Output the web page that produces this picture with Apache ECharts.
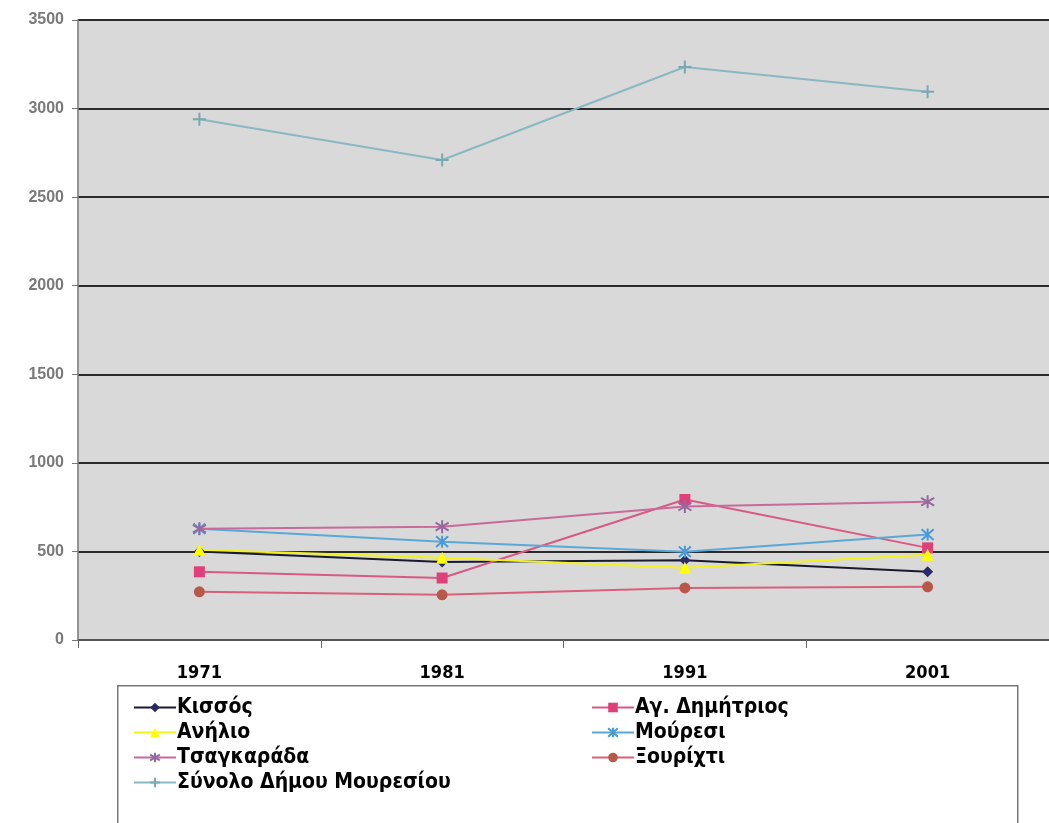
<!DOCTYPE html>
<html>
<head>
<meta charset="utf-8">
<script src="https://cdn.jsdelivr.net/npm/echarts@6/dist/echarts.min.js"></script>
<style>
html,body{margin:0;padding:0;background:#fff;}
#c{width:1049px;height:823px;}
</style>
</head>
<body>
<div id="c"></div>
<script>
var years = ['1971', '1981', '1991', '2001'];
var yTicks = [0, 500, 1000, 1500, 2000, 2500, 3000, 3500];
var kissos = [500, 440, 450, 385];
var agDimitrios = [385, 350, 793, 520];
var anilio = [510, 464, 408, 481];
var mouresi = [628, 555, 498, 595];
var tsagkarada = [628, 640, 753, 780];
var xourichti = [272, 255, 294, 300];
var synolo = [2940, 2710, 3235, 3095];

var names = ['Κισσός', 'Αγ. Δημήτριος', 'Ανήλιο', 'Μούρεσι', 'Τσαγκαράδα', 'Ξουρίχτι', 'Σύνολο Δήμου Μουρεσίου'];

var starPath = 'path://M0,-10 L0,10 M-9,-6 L9,6 M-9,6 L9,-6';
var xPath = 'path://M-8,-8 L8,8 M-8,8 L8,-8 M0,-9 L0,9';
var plusPath = 'path://M0,-8 L0,8 M-6,0 L6,0';

function mk(name, data, lineColor, markColor, symbol, size, strokeMarker) {
  return {
    name: name, type: 'line', data: data,
    symbol: symbol, symbolSize: size,
    lineStyle: {color: lineColor, width: 2},
    itemStyle: strokeMarker ? {color: 'none', borderColor: markColor, borderWidth: 2} : {color: markColor, borderWidth: 0},
    color: lineColor,
    z: 3
  };
}

var chart = echarts.init(document.getElementById('c'));
var fontNarrow = '"Liberation Sans Narrow", "DejaVu Sans Condensed", Arial, sans-serif';
chart.setOption({
  backgroundColor: '#ffffff',
  animation: false,
  grid: {left: 78, top: 20, width: 988, height: 620, show: true, backgroundColor: '#d9d9d9', borderWidth: 0},
  xAxis: {
    type: 'category', data: years, boundaryGap: true,
    axisLine: {lineStyle: {color: '#666', width: 1.5}},
    axisTick: {show: true, length: 8, lineStyle: {color: '#666'}},
    axisLabel: {color: '#000', fontSize: 18, fontWeight: 'bold', fontFamily: fontNarrow, margin: 24}
  },
  yAxis: {
    type: 'value', min: yTicks[0], max: yTicks[yTicks.length - 1], interval: 500,
    axisLine: {show: true, lineStyle: {color: '#777', width: 1.5}},
    axisTick: {show: true, length: 6, lineStyle: {color: '#777'}},
    axisLabel: {color: '#7a7a7a', fontSize: 16, fontWeight: 'bold', fontFamily: 'Liberation Sans, Arial, sans-serif', margin: 14,
      formatter: function (v) { return String(v); }},
    splitLine: {show: true, lineStyle: {color: '#2a2a2a', width: 2}}
  },
  legend: [
    {
      data: [names[0], names[2], names[4], names[6]],
      orient: 'vertical', left: 128, top: 692, itemGap: 4, itemWidth: 42, itemHeight: 12,
      textStyle: {color: '#000', fontSize: 21, fontWeight: 'bold', fontFamily: fontNarrow, padding: [0, 0, 0, -4]}
    },
    {
      data: [names[1], names[3], names[5]],
      orient: 'vertical', left: 586, top: 692, itemGap: 4, itemWidth: 42, itemHeight: 12,
      textStyle: {color: '#000', fontSize: 21, fontWeight: 'bold', fontFamily: fontNarrow, padding: [0, 0, 0, -4]}
    }
  ],
  graphic: [{
    type: 'rect', left: 117, top: 685, z: -1,
    shape: {width: 900, height: 145},
    style: {fill: '#fff', stroke: '#777', lineWidth: 1.5}
  }],
  series: [
    mk(names[0], kissos, '#1a1a2e', '#2a2a6a', 'diamond', 11),
    mk(names[1], agDimitrios, '#d85a84', '#e0407a', 'rect', 11),
    mk(names[2], anilio, '#f2f21e', '#ffff00', 'triangle', 12),
    mk(names[3], mouresi, '#5aa8d8', '#4a9ad8', xPath, 12, true),
    mk(names[4], tsagkarada, '#c86a9a', '#946a9e', starPath, 13, true),
    mk(names[5], xourichti, '#d8607a', '#b8584a', 'circle', 11),
    mk(names[6], synolo, '#8ab8c2', '#7aa8b2', plusPath, 13, true)
  ]
});
</script>
</body>
</html>
